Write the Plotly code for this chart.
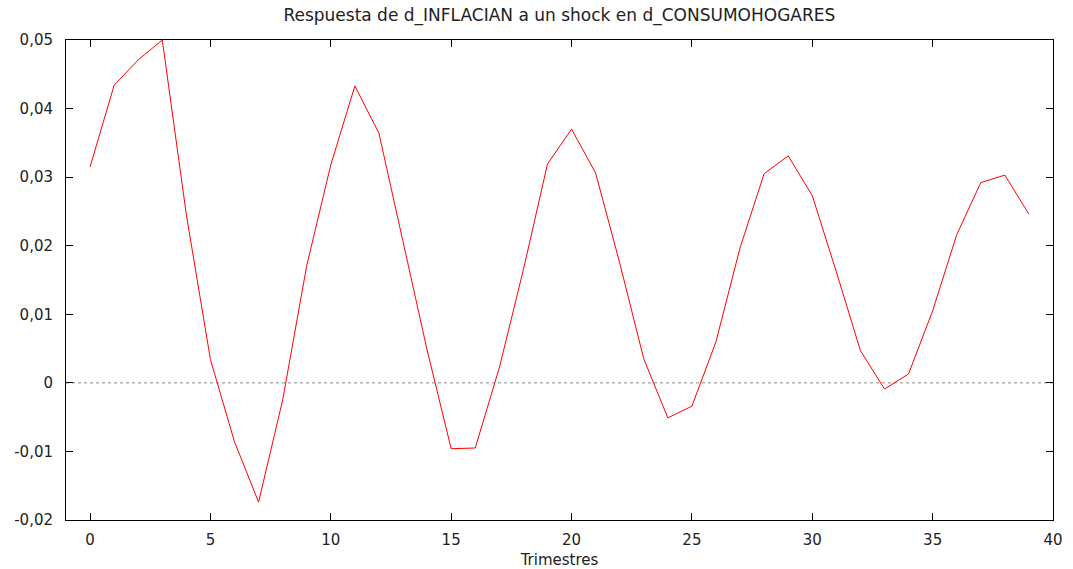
import plotly.graph_objects as go

trimestres = list(range(40))
respuesta = [0.0315, 0.0434, 0.0471, 0.0500, 0.0245, 0.0034, -0.0086, -0.0174,
             -0.0025, 0.0171, 0.0318, 0.0433, 0.0364, 0.0208, 0.0048, -0.0096,
             -0.0095, 0.0022, 0.0165, 0.0319, 0.0370, 0.0306, 0.0175, 0.0035,
             -0.0051, -0.0034, 0.0060, 0.0197, 0.0305, 0.0331, 0.0273, 0.0162,
             0.0047, -0.0009, 0.0013, 0.0105, 0.0216, 0.0292, 0.0303, 0.0246]

x_tickvals = [0, 5, 10, 15, 20, 25, 30, 35, 40]
y_tickvals = [-0.02, -0.01, 0, 0.01, 0.02, 0.03, 0.04, 0.05]
y_ticktext = ["-0,02", "-0,01", "0", "0,01", "0,02", "0,03", "0,04", "0,05"]

font = "DejaVu Sans"

fig = go.Figure()
fig.add_trace(go.Scatter(x=[-1, 40], y=[0, 0], mode="lines",
                         line=dict(color="#888888", width=1, dash="dot"),
                         hoverinfo="skip", showlegend=False))
fig.add_trace(go.Scatter(x=trimestres, y=respuesta, mode="lines",
                         line=dict(color="#ff0000", width=1), showlegend=False))

fig.update_layout(
    width=1073, height=569,
    margin=dict(l=66, r=20, t=40, b=49),
    paper_bgcolor="white", plot_bgcolor="white",
    font=dict(family=font, size=15, color="#222222"),
    title=dict(text="Respuesta de d_INFLACIAN a un shock en d_CONSUMOHOGARES",
               x=0.5213, xanchor="center", y=0.974, yanchor="middle",
               font=dict(family=font, size=17, color="#222222")),
    xaxis=dict(range=[-1, 40], tickvals=x_tickvals, ticks="inside", ticklen=7,
               tickcolor="black", showline=True, linecolor="black", linewidth=1,
               mirror="ticks", showgrid=False, zeroline=False, automargin=False,
               ticklabelstandoff=6,
               title=dict(text="Trimestres", standoff=6,
                          font=dict(family=font, size=15)),
               tickfont=dict(family=font, size=15)),
    yaxis=dict(range=[-0.02, 0.05], tickvals=y_tickvals, ticktext=y_ticktext,
               ticks="inside", ticklen=7, tickcolor="black", showline=True,
               linecolor="black", linewidth=1, mirror="ticks", showgrid=False,
               zeroline=False, automargin=False, ticklabelstandoff=9,
               tickfont=dict(family=font, size=15)),
)

fig.write_html("out.html")
